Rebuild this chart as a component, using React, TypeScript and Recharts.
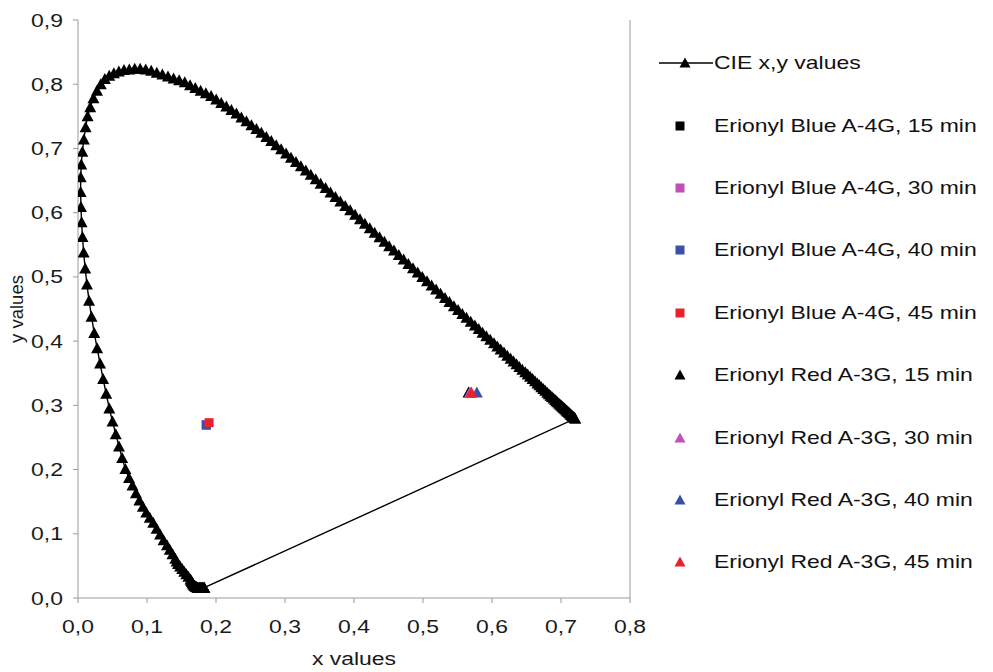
import { ReferenceLine, Scatter, ScatterChart, XAxis, YAxis } from 'recharts';

// spectral locus (start at the violet end, run round to red)
const locusX = [
  0.183, 0.182, 0.181, 0.18, 0.179, 0.178, 0.177, 0.176, 0.175, 0.174, 0.173, 0.172, 0.171, 0.17, 0.169,
  0.168, 0.167, 0.166, 0.165, 0.164, 0.163, 0.16, 0.157, 0.154, 0.151, 0.148, 0.145, 0.143, 0.141, 0.137,
  0.133, 0.129, 0.124, 0.119, 0.114, 0.109, 0.104, 0.099, 0.094, 0.089, 0.084, 0.079, 0.074, 0.0687, 0.064,
  0.0594, 0.0547, 0.05, 0.0454, 0.0409, 0.0364, 0.032, 0.0277, 0.0235, 0.0196, 0.016, 0.013, 0.0104, 0.0082,
  0.0065, 0.0052, 0.0043, 0.0038, 0.0039, 0.0047, 0.0063, 0.0085, 0.011, 0.0139, 0.0177, 0.0224, 0.0275,
  0.033, 0.0389, 0.0453, 0.052, 0.0592, 0.0667, 0.0743, 0.0822, 0.0901, 0.0981, 0.1061, 0.1142, 0.1223,
  0.1304, 0.1385, 0.1466, 0.1547, 0.1624, 0.17, 0.1777, 0.1853, 0.1929, 0.2003, 0.2076, 0.215, 0.2223,
  0.2296, 0.2368, 0.2441, 0.2513, 0.2586, 0.2658, 0.273, 0.2801, 0.2873, 0.2944, 0.3016, 0.3087, 0.3159,
  0.323, 0.3302, 0.3373, 0.3445, 0.3516, 0.3588, 0.3659, 0.3731, 0.3802, 0.3873, 0.3945, 0.4016, 0.4087,
  0.4158, 0.4229, 0.4299, 0.437, 0.4441, 0.451, 0.458, 0.4649, 0.4719, 0.4788, 0.4855, 0.4923, 0.499,
  0.5058, 0.5125, 0.519, 0.5254, 0.5319, 0.5383, 0.5448, 0.5509, 0.557, 0.563, 0.5691, 0.5752, 0.5807,
  0.5863, 0.5918, 0.5974, 0.6029, 0.6077, 0.6125, 0.6174, 0.6222, 0.627, 0.6312, 0.6355, 0.6397, 0.644,
  0.6482, 0.6517, 0.6552, 0.6588, 0.6623, 0.6658, 0.6687, 0.6715, 0.6744, 0.6772, 0.6801, 0.6824, 0.6847,
  0.6869, 0.6892, 0.6915, 0.6933, 0.6951, 0.697, 0.6988, 0.7006, 0.7021, 0.7035, 0.705, 0.7064, 0.7079,
  0.7091, 0.7103, 0.7116, 0.7128, 0.714, 0.715, 0.716, 0.717, 0.718, 0.719, 0.7198, 0.7206,
  0.183,
];
const locusY = [
  0.016, 0.016, 0.016, 0.016, 0.016, 0.016, 0.016, 0.016, 0.016, 0.016, 0.016, 0.017, 0.017, 0.018, 0.019,
  0.02, 0.021, 0.023, 0.025, 0.027, 0.029, 0.033, 0.037, 0.041, 0.045, 0.049, 0.053, 0.057, 0.061, 0.068,
  0.075, 0.082, 0.09, 0.099, 0.108, 0.117, 0.125, 0.133, 0.142, 0.152, 0.163, 0.175, 0.187, 0.2007, 0.218,
  0.236, 0.255, 0.275, 0.295, 0.318, 0.341, 0.365, 0.389, 0.4127, 0.438, 0.463, 0.488, 0.513, 0.538,
  0.562, 0.585, 0.609, 0.632, 0.655, 0.675, 0.695, 0.714, 0.733, 0.75, 0.764, 0.778, 0.79,
  0.8, 0.808, 0.813, 0.817, 0.82, 0.822, 0.823, 0.824, 0.824, 0.823, 0.821, 0.818, 0.815,
  0.812, 0.809, 0.806, 0.803, 0.7985, 0.794, 0.79, 0.786, 0.7816, 0.7763, 0.7709, 0.7654, 0.7599,
  0.7543, 0.7483, 0.7423, 0.7363, 0.7303, 0.7243, 0.7179, 0.7115, 0.7051, 0.6987, 0.6923, 0.6856, 0.679,
  0.6723, 0.6656, 0.6589, 0.652, 0.6451, 0.6383, 0.6314, 0.6245, 0.6175, 0.6105, 0.6036, 0.5966, 0.5896,
  0.5826, 0.5756, 0.5687, 0.5617, 0.5547, 0.5478, 0.5409, 0.534, 0.5271, 0.5202, 0.5135, 0.5068, 0.5,
  0.4933, 0.4866, 0.4802, 0.4737, 0.4673, 0.4608, 0.4544, 0.4484, 0.4423, 0.4363, 0.4302, 0.4242, 0.4187,
  0.4131, 0.4076, 0.402, 0.3965, 0.3917, 0.3869, 0.3821, 0.3773, 0.3725, 0.3683, 0.3641, 0.3598, 0.3556,
  0.3514, 0.3479, 0.3444, 0.341, 0.3375, 0.334, 0.3311, 0.3283, 0.3254, 0.3226, 0.3197, 0.3174, 0.3151,
  0.3129, 0.3106, 0.3083, 0.3065, 0.3047, 0.3029, 0.3011, 0.2993, 0.2978, 0.2964, 0.2949, 0.2935, 0.292,
  0.2908, 0.2896, 0.2883, 0.2871, 0.2859, 0.2849, 0.2839, 0.2829, 0.2819, 0.2809, 0.2801, 0.2793,
  0.016,
];

const blueNames = [
  'Erionyl Blue A-4G, 15 min',
  'Erionyl Blue A-4G, 30 min',
  'Erionyl Blue A-4G, 40 min',
  'Erionyl Blue A-4G, 45 min',
];
const blueX = [0.186, 0.186, 0.186, 0.19];
const blueY = [0.27, 0.27, 0.269, 0.273];

const redNames = [
  'Erionyl Red A-3G, 15 min',
  'Erionyl Red A-3G, 30 min',
  'Erionyl Red A-3G, 40 min',
  'Erionyl Red A-3G, 45 min',
];
const redX = [0.566, 0.568, 0.578, 0.57];
const redY = [0.32, 0.32, 0.32, 0.32];

const X_TICKS = [0, 0.1, 0.2, 0.3, 0.4, 0.5, 0.6, 0.7, 0.8];
const Y_TICKS = [0, 0.1, 0.2, 0.3, 0.4, 0.5, 0.6, 0.7, 0.8, 0.9];

const SAMPLE_COLORS = ['#000000', '#c04fb6', '#3b50a8', '#e8232b'];
const FONT = '"Liberation Sans", Arial, sans-serif';
const STRETCH = 1.24;

const locus = locusX.map((x, i) => ({ x, y: locusY[i] }));

function fmt(v: number) {
  return v.toFixed(1).replace('.', ',');
}

function triangle(color: string) {
  return (p: any) => {
    const { cx, cy } = p;
    if (cx == null || cy == null) return <g />;
    return (
      <polygon
        points={`${cx},${cy - 6} ${cx + 6},${cy + 5} ${cx - 6},${cy + 5}`}
        fill={color}
      />
    );
  };
}

function square(color: string) {
  return (p: any) => {
    const { cx, cy } = p;
    if (cx == null || cy == null) return <g />;
    return <rect x={cx - 4.5} y={cy - 4.5} width={9} height={9} fill={color} />;
  };
}

function XTick({ x, y, payload }: any) {
  return (
    <g transform={`translate(${x},${y}) scale(${STRETCH},1)`}>
      <text x={0} y={27} textAnchor="middle" fontSize={18.5} fontFamily={FONT} fill="#1a1a1a">
        {fmt(payload.value)}
      </text>
    </g>
  );
}

function YTick({ x, y, payload }: any) {
  return (
    <g transform={`translate(${x},${y}) scale(${STRETCH},1)`}>
      <text x={0} y={6.5} textAnchor="end" fontSize={18.5} fontFamily={FONT} fill="#1a1a1a">
        {fmt(payload.value)}
      </text>
    </g>
  );
}

const legendText: React.CSSProperties = {
  display: 'inline-block',
  fontFamily: FONT,
  fontSize: 18.5,
  color: '#111',
  whiteSpace: 'nowrap',
  transform: `scaleX(${STRETCH})`,
  transformOrigin: 'left center',
};

function LegendBox() {
  const rows: { kind: string; color: string; name: string }[] = [
    { kind: 'locus', color: '#000', name: 'CIE x,y values' },
    ...blueNames.map((name, i) => ({ kind: 'square', color: SAMPLE_COLORS[i], name })),
    ...redNames.map((name, i) => ({ kind: 'triangle', color: SAMPLE_COLORS[i], name })),
  ];
  return (
    <div style={{ position: 'absolute', left: 655, top: 32, width: 338 }}>
      {rows.map(r => (
        <div key={r.name} style={{ height: 62.4, display: 'flex', alignItems: 'center' }}>
          <svg width={59} height={20} style={{ flex: 'none' }}>
            {r.kind === 'locus' && (
              <>
                <line x1={4} y1={10} x2={58} y2={10} stroke="#000" strokeWidth={1.3} />
                <polygon points="30,4.5 35.5,14.5 24.5,14.5" fill="#000" />
              </>
            )}
            {r.kind === 'square' && <rect x={20.5} y={5.5} width={9} height={9} fill={r.color} />}
            {r.kind === 'triangle' && <polygon points="25,4.5 30.5,14.5 19.5,14.5" fill={r.color} />}
          </svg>
          <span style={legendText}>{r.name}</span>
        </div>
      ))}
    </div>
  );
}

export default function App() {
  return (
    <div style={{ position: 'absolute', left: 0, top: 0, width: 993, height: 672, background: '#fff' }}>
      <ScatterChart width={650} height={672} margin={{ top: 20, right: 20, left: 18, bottom: 34 }}>
        <XAxis
          type="number"
          dataKey="x"
          domain={[0, 0.8]}
          ticks={X_TICKS}
          allowDataOverflow
          height={40}
          stroke="#9a9a9a"
          tickSize={5}
          tickMargin={3}
          tick={<XTick />}
          label={{
            content: (p: any) => {
              const vb = p.viewBox;
              return (
                <g transform={`translate(${vb.x + vb.width / 2},665) scale(${STRETCH},1)`}>
                  <text textAnchor="middle" fontSize={18.5} fontFamily={FONT} fill="#1a1a1a">
                    x values
                  </text>
                </g>
              );
            },
          }}
        />
        <YAxis
          type="number"
          dataKey="y"
          domain={[0, 0.9]}
          ticks={Y_TICKS}
          allowDataOverflow
          width={60}
          stroke="#9a9a9a"
          tickSize={5}
          tickMargin={10}
          tick={<YTick />}
          label={{
            content: () => (
              <g transform="translate(23,309) rotate(-90)">
                <text textAnchor="middle" fontSize={18.5} fontFamily={FONT} fill="#1a1a1a">
                  y values
                </text>
              </g>
            ),
          }}
        />
        <ReferenceLine x={0.8} stroke="#9a9a9a" strokeWidth={1} ifOverflow="extendDomain" />
        <Scatter
          name="CIE x,y values"
          data={locus}
          line={{ stroke: '#000', strokeWidth: 1.4 }}
          lineType="joint"
          shape={triangle('#000')}
          isAnimationActive={false}
        />
        {blueNames.map((name, i) => (
          <Scatter
            key={name}
            name={name}
            data={[{ x: blueX[i], y: blueY[i] }]}
            shape={square(SAMPLE_COLORS[i])}
            isAnimationActive={false}
          />
        ))}
        {redNames.map((name, i) => (
          <Scatter
            key={name}
            name={name}
            data={[{ x: redX[i], y: redY[i] }]}
            shape={triangle(SAMPLE_COLORS[i])}
            isAnimationActive={false}
          />
        ))}
      </ScatterChart>
      <LegendBox />
    </div>
  );
}
